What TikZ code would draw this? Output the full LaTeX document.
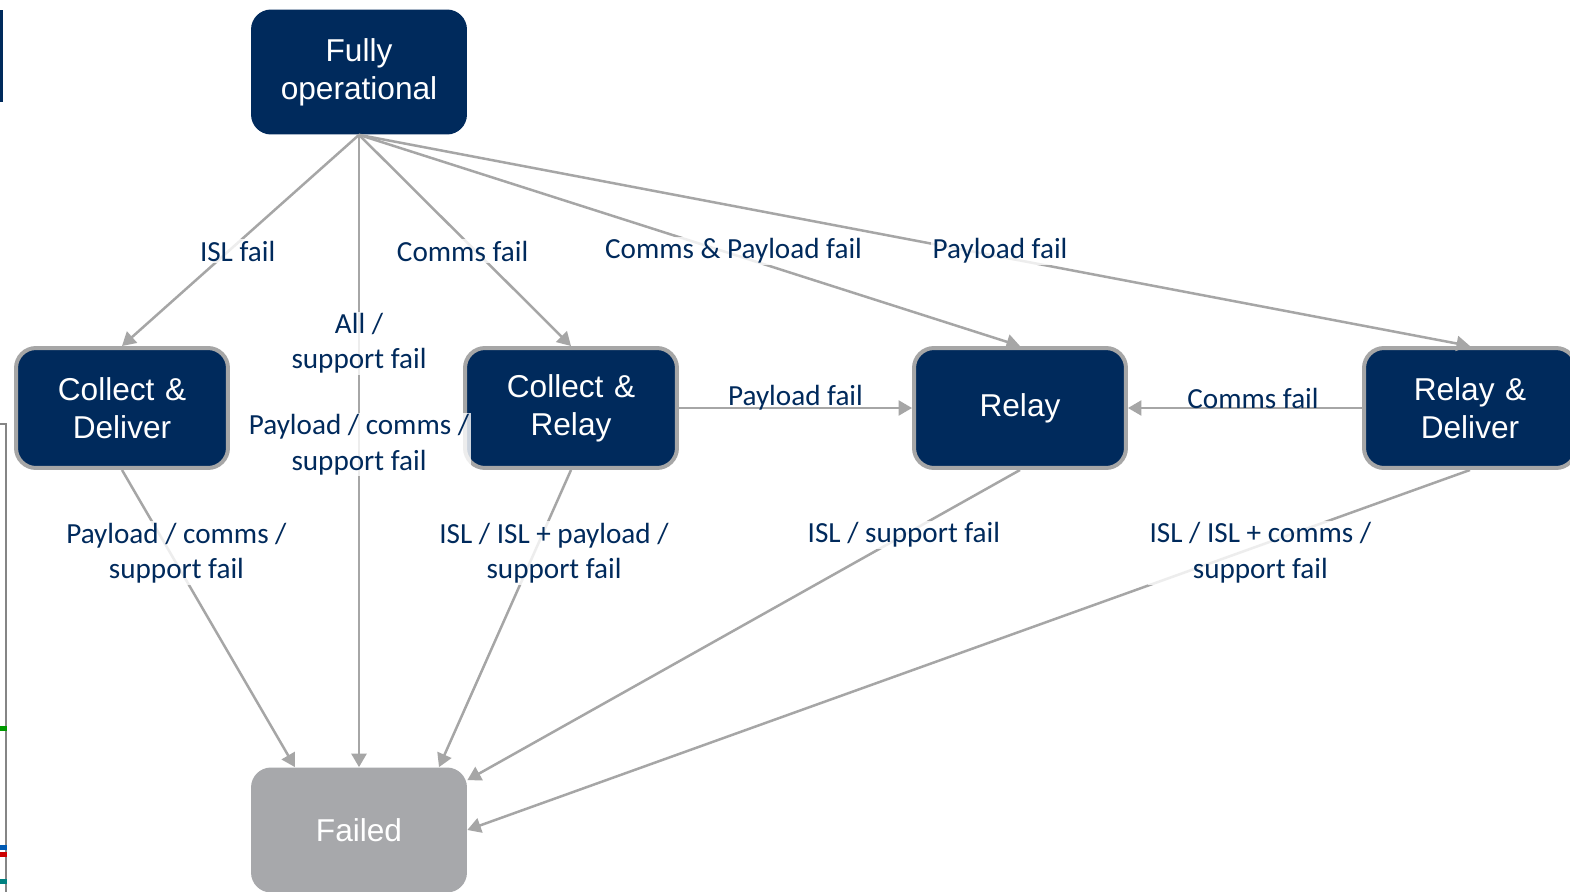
\documentclass[tikz,border=0pt]{standalone}
\usepackage{fontspec}
\setmainfont{Liberation Sans}
\newfontfamily\lblfont{Carlito}
\usepackage{tikz}
\usetikzlibrary{shapes.geometric, arrows.meta, calc}
\definecolor{navy}{RGB}{0,42,92}
\definecolor{edge}{RGB}{166,166,166}
\definecolor{dead}{RGB}{167,168,171}
\tikzstyle{topstate} = [rectangle, rounded corners=0.4cm, minimum width=4.32cm, minimum height=2.5cm, text width=4cm, align=center, fill=navy, text=white, inner sep=0pt, font=\fontsize{18}{21.5}\selectfont]
\tikzstyle{opstate} = [topstate, draw=edge, line width=0.08cm, minimum width=4.24cm, minimum height=2.4cm]
\tikzstyle{failstate} = [topstate, fill=dead]
\tikzstyle{arrow} = [draw=edge, line width=0.05cm, ->, >={Triangle[length=0.27cm, width=0.3cm]}]
\tikzstyle{lbl} = [text=navy, align=center, inner sep=1pt, fill=white, fill opacity=0.8, text opacity=1, font=\lblfont\fontsize{16.6}{20}\selectfont]
\tikzstyle{lblplain} = [text=navy, inner sep=1pt, font=\lblfont\fontsize{16.6}{20}\selectfont]

\begin{document}
\begin{tikzpicture}[x=0.02cm, y=-0.02cm]
		\path[use as bounding box, fill=white] (0,0) rectangle (1570,892);
		
		% slide edge
		\fill[navy] (0,10) rectangle (3,102);
		\draw[edge!80!black, line width=0.04cm] (0,424) -- (6,424) -- (6,892);
		\fill[green!60!black] (0,726) rectangle (7,731);
		\fill[blue!50!cyan!70!black] (0,845) rectangle (7,850);
		\fill[red!80!black] (0,852) rectangle (7,857);
		\fill[teal] (0,879) rectangle (7,884);
		
		% Nodes
		\node (full) [topstate] at (359,72) {Fully\\operational};
		\node (cd) [opstate] at (122,408) {Collect \&\\Deliver};
		\node (cr) [opstate] at (571,408) {Collect \&\\Relay};
		\node (relay) [opstate] at (1020,408) {Relay};
		\node (rd) [opstate] at (1470,408) {Relay \&\\Deliver};
		\node (failed) [failstate] at (359,830) {Failed};
		
		% Arrows
		\draw [arrow] (full.south) -- node[lbl, pos=0.55, xshift=0.18cm] {ISL fail} (cd.north);
		\draw [arrow] (full.south) -- node[lbl, pos=0.33] {All /\\support fail} node[lbl, pos=0.49] {Payload / comms /\\support fail} (failed.north);
		\draw [arrow] (full.south) -- node[lbl, pos=0.55, xshift=-0.26cm] {Comms fail} (cr.north);
		\draw [arrow] (full.south) -- node[lbl, pos=0.55, xshift=0.22cm] {Comms \& Payload fail} (relay.north);
		\draw [arrow] (full.south) -- node[lbl, pos=0.55, xshift=0.6cm] {Payload fail} (rd.north);
		
		\draw [arrow] (cr.east) -- node[lblplain, midway, yshift=0.2cm] {Payload fail} (relay.west);
		\draw [arrow] (rd.west) -- node[lblplain, midway, yshift=0.2cm, xshift=0.16cm] {Comms fail} (relay.east);
		
		\draw [arrow] (cd.south) -- node[lbl, pos=0.28, xshift=0.12cm] {Payload / comms /\\support fail} ($(failed.north)+(-64,0)$);
		\draw [arrow] (cr.south) -- node[lbl, pos=0.28, xshift=0.4cm] {ISL / ISL + payload /\\support fail} ($(failed.north)+(80,0)$);
		\draw [arrow] (relay.south) -- node[lbl, pos=0.21] {ISL / support fail} ($(failed.north east)+(0,13)$);
		\draw [arrow] (rd.south) -- node[lbl, pos=0.23, xshift=0.42cm] {ISL / ISL + comms /\\support fail} (failed.east);
		
	\end{tikzpicture}
\end{document}
